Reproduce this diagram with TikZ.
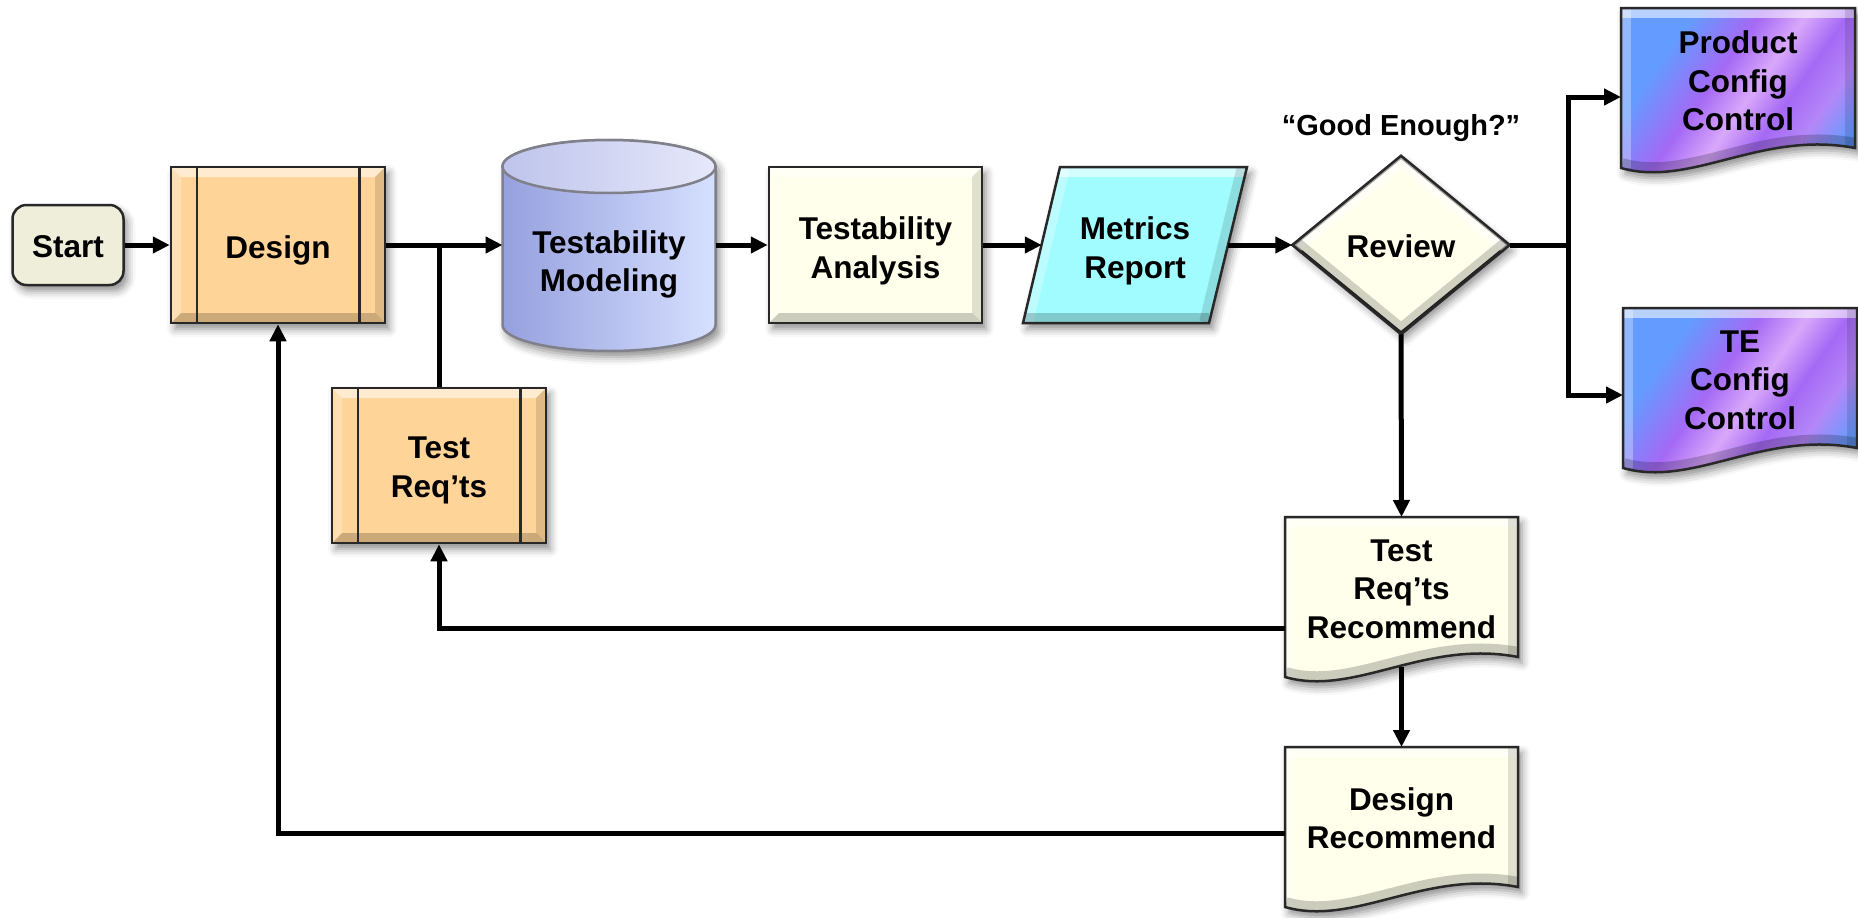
\documentclass[tikz,border=0pt]{standalone}
\usepackage{fontspec}
\setmainfont{Liberation Sans}
\usetikzlibrary{arrows.meta,shapes.geometric,shadows.blur,calc}
\definecolor{startc}{RGB}{238,238,218}
\definecolor{peach}{RGB}{255,212,152}
\definecolor{cream}{RGB}{255,255,236}
\definecolor{cyanc}{RGB}{160,252,255}
\definecolor{cylL}{RGB}{150,160,222}
\definecolor{cylR}{RGB}{214,224,255}
\definecolor{cylTL}{RGB}{190,196,236}
\definecolor{cylTR}{RGB}{230,232,250}
\definecolor{cylB}{RGB}{128,128,138}
\definecolor{edgec}{RGB}{40,40,40}
\definecolor{cfgB}{RGB}{100,155,255}
\definecolor{cfgP}{RGB}{165,105,245}
\definecolor{cfgK}{RGB}{216,168,250}
\definecolor{cfgL}{RGB}{180,135,248}
\pgfdeclarehorizontalshading{cfgshade}{100bp}{color(0bp)=(cfgB); color(30bp)=(cfgB); color(43bp)=(cfgP); color(52bp)=(cfgK); color(60bp)=(cfgP); color(68bp)=(cfgL); color(77bp)=(cfgB); color(100bp)=(cfgB)}
\newcommand\docshape[4]{\path[#4] (#1,#2) -- (#1+#3,#2) -- (#1+#3,#2+140) .. controls (#1+0.6*#3,#2+122) and (#1+0.3*#3,#2+180) .. (#1,#2+160) -- cycle;}
\newcommand\docclip[3]{\clip (#1,#2) -- (#1+#3,#2) -- (#1+#3,#2+140) .. controls (#1+0.6*#3,#2+122) and (#1+0.3*#3,#2+180) .. (#1,#2+160) -- cycle;}
\newcommand\docbevel[3]{\begin{scope}\docclip{#1}{#2}{#3}
 \draw[white,opacity=.55,line width=20pt] (#1,#2) -- (#1+#3,#2);
 \draw[white,opacity=.3,line width=20pt] (#1,#2) -- (#1,#2+160);
 \draw[black,opacity=.12,line width=20pt] (#1+#3,#2) -- (#1+#3,#2+140);
 \draw[black,opacity=.2,line width=20pt] (#1+#3,#2+140) .. controls (#1+0.6*#3,#2+122) and (#1+0.3*#3,#2+180) .. (#1,#2+160);
\end{scope}}
\begin{document}
\begin{tikzpicture}[x=1pt,y=-1pt,
  lbl/.style={font=\bfseries\fontsize{31.5}{38.5}\selectfont, align=center, text=black},
  edge/.style={draw=edgec, line width=2.5pt},
  shadowed/.style={blur shadow={shadow xshift=4pt,shadow yshift=-6pt,shadow blur radius=8pt,shadow opacity=45}},
  rbox/.style={rectangle, edge, shadowed, inner sep=0pt},
  helper/.style={rectangle, draw=none, inner sep=0pt, outer sep=0pt, lbl},
  wire/.style={line width=5pt, black},
  arrowed/.style={line width=5pt, black, -{Triangle[length=17pt,width=16pt]}},
  bevel/.style={path picture={
    \path (path picture bounding box.north west) coordinate (bA)
          (path picture bounding box.north east) coordinate (bB)
          (path picture bounding box.south east) coordinate (bC)
          (path picture bounding box.south west) coordinate (bD);
    \fill[white,opacity=.55] (bA) -- (bB) -- ([xshift=-10pt,yshift=-10pt]bB) -- ([xshift=10pt,yshift=-10pt]bA) -- cycle;
    \fill[white,opacity=.25] (bA) -- ([xshift=10pt,yshift=-10pt]bA) -- ([xshift=10pt,yshift=10pt]bD) -- (bD) -- cycle;
    \fill[black,opacity=.2] (bD) -- (bC) -- ([xshift=-10pt,yshift=10pt]bC) -- ([xshift=10pt,yshift=10pt]bD) -- cycle;
    \fill[black,opacity=.12] (bB) -- (bC) -- ([xshift=-10pt,yshift=10pt]bC) -- ([xshift=-10pt,yshift=-10pt]bB) -- cycle;
  }}
]
\useasboundingbox (0,0) rectangle (1858,918);

% Start
\node[rbox, fill=startc, rounded corners=14pt, minimum width=111pt, minimum height=80pt] (start) at (68,245) {};
\node[lbl] (starttxt) at ([yshift=-2pt]start.center) {Start};

% Design
\node[rbox, bevel, fill=peach, minimum width=214pt, minimum height=156pt] (design) at (278,245) {};
\draw[edge] ([xshift=27pt]design.north west) -- ([xshift=27pt]design.south west);
\draw[edge] ([xshift=-27pt]design.north east) -- ([xshift=-27pt]design.south east);
\node[lbl] (designtxt) at ([yshift=-5pt]design.center) {Design};

% Test Req'ts
\node[rbox, bevel, fill=peach, minimum width=214pt, minimum height=155pt] (treq) at (439,465.5) {};
\draw[edge] ([xshift=27pt]treq.north west) -- ([xshift=27pt]treq.south west);
\draw[edge] ([xshift=-27pt]treq.north east) -- ([xshift=-27pt]treq.south east);
\node[lbl] (treqtxt) at ([yshift=-5pt]treq.center) {Test\\Req’ts};

% Cylinder
\path[shadowed, left color=cylL, right color=cylR, draw=cylB, line width=2.5pt]
  (502.5,166.5) -- (502.5,325) arc[start angle=180, end angle=360, x radius=106.5pt, y radius=26pt]
  -- (715.5,166.5) arc[start angle=0, end angle=180, x radius=106.5pt, y radius=26.5pt] -- cycle;
\path[left color=cylTL, right color=cylTR, draw=cylB, line width=2.5pt] (609,166.5) ellipse[x radius=106.5pt, y radius=26.5pt];
\node[helper, minimum width=213pt, minimum height=211pt] (model) at (609,245) {};
\node[lbl] (modeltxt) at (609,264.5) {Testability\\Modeling};

% Testability Analysis
\node[rbox, bevel, fill=cream, minimum width=213pt, minimum height=156pt] (analysis) at (875.5,245) {};
\node[lbl] (analysistxt) at ([yshift=-6pt]analysis.center) {Testability\\Analysis};

% Metrics Report (parallelogram)
\path[shadowed, fill=cyanc] (1060,167) -- (1247,167) -- (1209,323) -- (1023,323) -- cycle;
\begin{scope}
  \clip (1060,167) -- (1247,167) -- (1209,323) -- (1023,323) -- cycle;
  \draw[white,opacity=.55,line width=20pt] (1060,167) -- (1247,167);
  \draw[white,opacity=.3,line width=20pt] (1060,167) -- (1023,323);
  \draw[black,opacity=.12,line width=20pt] (1247,167) -- (1209,323);
  \draw[black,opacity=.2,line width=20pt] (1209,323) -- (1023,323);
\end{scope}
\draw[edge] (1060,167) -- (1247,167) -- (1209,323) -- (1023,323) -- cycle;
\node[helper, minimum width=186.5pt, minimum height=156pt] (metrics) at (1135,245) {};
\node[lbl] (metricstxt) at ([yshift=-6pt]metrics.center) {Metrics\\Report};

% Review diamond
\node[diamond, edge, shadowed, fill=cream, minimum width=215pt, minimum height=176pt, inner sep=0pt] (review) at (1401,245) {};
\begin{scope}
  \clip (review.north) -- (review.east) -- (review.south) -- (review.west) -- cycle;
  \draw[white,opacity=.6,line width=20pt] (review.west) -- (review.north) -- (review.east);
  \draw[black,opacity=.18,line width=20pt] (review.east) -- (review.south) -- (review.west);
\end{scope}
\draw[edge] (review.north) -- (review.east) -- (review.south) -- (review.west) -- cycle;
\node[lbl] (reviewtxt) at (1401,246) {Review};
\node[font=\bfseries\fontsize{29}{35}\selectfont] (good) at (1401,128.5) {“Good Enough?”};

% Product Config Control
\docshape{1621}{8}{234}{shadowed, shading=cfgshade, shading angle=-35}
\docbevel{1621}{8}{234}
\docshape{1621}{8}{234}{edge}
\node[helper, minimum width=234pt] (prod) at (1738,81) {Product\\Config\\Control};

% TE Config Control
\docshape{1623}{308}{234}{shadowed, shading=cfgshade, shading angle=-35}
\docbevel{1623}{308}{234}
\docshape{1623}{308}{234}{edge}
\node[helper, minimum width=234pt] (te) at (1740,380) {TE\\Config\\Control};

% Test Req'ts Recommend
\docshape{1285}{517}{233}{shadowed, fill=cream}
\docbevel{1285}{517}{233}
\docshape{1285}{517}{233}{edge}
\node[helper, minimum width=233pt, minimum height=150pt] (trr) at (1401.5,592) {};
\node[lbl] (trrtxt) at (1401.5,589) {Test\\Req’ts\\Recommend};

% Design Recommend
\docshape{1285}{747}{233}{shadowed, fill=cream}
\docbevel{1285}{747}{233}
\docshape{1285}{747}{233}{edge}
\node[helper, minimum width=233pt, minimum height=146pt] (dr) at (1401.5,820) {};
\node[lbl] (drtxt) at (1401.5,818) {Design\\Recommend};

% Connectors
\coordinate (br) at (1568,245);
\draw[arrowed] (start.east) -- (design.west);
\draw[arrowed] (design.east) -- (model.west);
\draw[wire] (treq.north) -- (treq.north |- design.east);
\draw[arrowed] (model.east) -- (analysis.west);
\draw[arrowed] (analysis.east) -- (metrics.west);
\draw[arrowed] (metrics.east) -- (review.west);
\draw[wire] (review.east) -- (br);
\draw[arrowed] (br) |- ([yshift=-16pt]prod.west);
\draw[arrowed] (br) |- ([yshift=-15pt]te.west);
\draw[arrowed] (review.south) -- (trr.north);
\draw[arrowed] (trr.south) -- (dr.north);
\draw[arrowed] ([yshift=-36pt]trr.west) -| (treq.south);
\draw[arrowed] ([yshift=-13pt]dr.west) -| (design.south);
\end{tikzpicture}
\end{document}
